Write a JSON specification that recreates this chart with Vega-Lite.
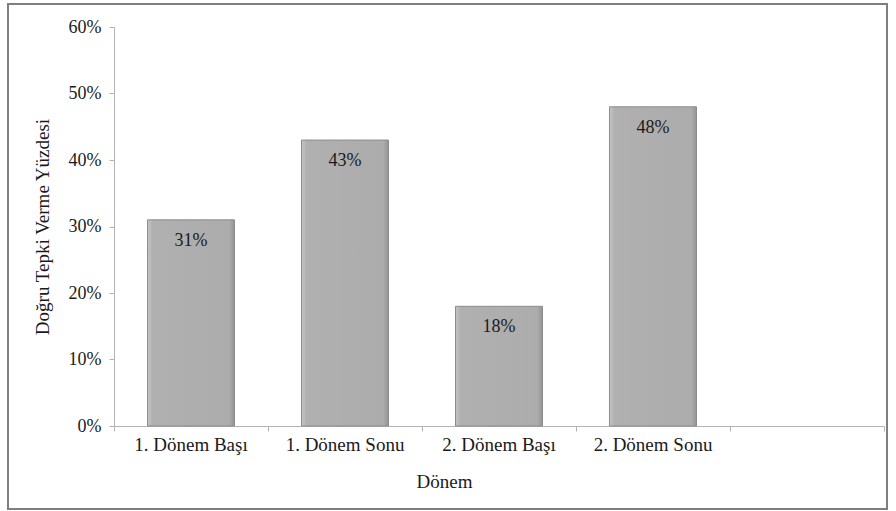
{
  "$schema": "https://vega.github.io/schema/vega-lite/v6.json",
  "width": 879,
  "height": 505,
  "autosize": {"type": "none"},
  "padding": {"left": 8, "top": 4, "right": 9, "bottom": 2},
  "background": "white",
  "config": {
    "view": {"stroke": "#7f7f7f", "strokeWidth": 2},
    "font": "Liberation Serif"
  },
  "data": {
    "values": [
      {"donem": "1. Dönem Başı", "yuzde": 0.31},
      {"donem": "1. Dönem Sonu", "yuzde": 0.43},
      {"donem": "2. Dönem Başı", "yuzde": 0.18},
      {"donem": "2. Dönem Sonu", "yuzde": 0.48}
    ]
  },
  "encoding": {
    "y": {
      "field": "yuzde",
      "type": "quantitative",
      "scale": {"domain": [0, 0.6], "range": [422, 23], "nice": false},
      "axis": {
        "title": "Doğru Tepki Verme Yüzdesi",
        "orient": "left",
        "offset": -106,
        "values": [0, 0.1, 0.2, 0.3, 0.4, 0.5, 0.6],
        "format": ".0%",
        "grid": false,
        "tickSize": 5,
        "tickColor": "#b3b3b3",
        "domainColor": "#b3b3b3",
        "labelFont": "Liberation Serif",
        "labelFontSize": 18,
        "labelColor": "#1a1a1a",
        "labelPadding": 8,
        "titleFont": "Liberation Serif",
        "titleFontSize": 19,
        "titleFontWeight": "normal",
        "titleColor": "#1a1a1a",
        "titlePadding": 16
      }
    }
  },
  "layer": [
    {
      "mark": {
        "type": "bar",
        "color": {
          "gradient": "linear",
          "x1": 0, "y1": 0, "x2": 1, "y2": 0,
          "stops": [
            {"offset": 0, "color": "#c4c4c4"},
            {"offset": 0.06, "color": "#b0b0b0"},
            {"offset": 0.94, "color": "#acacac"},
            {"offset": 1, "color": "#939393"}
          ]
        },
        "stroke": "#8c8c8c",
        "strokeWidth": 1
      },
      "encoding": {
        "x": {
          "field": "donem",
          "type": "nominal",
          "sort": null,
          "scale": {
            "domain": ["1. Dönem Başı", "1. Dönem Sonu", "2. Dönem Başı", "2. Dönem Sonu", "_"],
            "range": [106, 876],
            "paddingInner": 0.435,
            "paddingOuter": 0.2175
          },
          "axis": {
            "title": "Dönem",
            "orient": "bottom",
            "offset": -83,
            "labelAngle": 0,
            "labelExpr": "datum.value == '_' ? '' : datum.label",
            "ticks": false,
            "domainColor": "#b3b3b3",
            "labelFont": "Liberation Serif",
            "labelFontSize": 19,
            "labelColor": "#1a1a1a",
            "labelPadding": 9,
            "titleFont": "Liberation Serif",
            "titleFontSize": 19,
            "titleFontWeight": "normal",
            "titleColor": "#1a1a1a",
            "titleX": 436,
            "titleY": 55,
            "titleBaseline": "middle"
          }
        }
      }
    },
    {
      "mark": {"type": "text", "dy": 21, "baseline": "middle", "font": "Liberation Serif", "fontSize": 18, "color": "#1a1a1a"},
      "encoding": {
        "x": {
          "field": "donem",
          "type": "nominal",
          "sort": null,
          "scale": {
            "domain": ["1. Dönem Başı", "1. Dönem Sonu", "2. Dönem Başı", "2. Dönem Sonu", "_", "__"],
            "range": [106, 1030],
            "paddingInner": 0.435,
            "paddingOuter": 0.2175
          },
          "axis": {
            "orient": "bottom",
            "offset": -83,
            "title": null,
            "labels": false,
            "domain": false,
            "ticks": true,
            "tickOffset": -77,
            "tickSize": 5,
            "tickColor": "#b3b3b3"
          }
        },
        "text": {"field": "yuzde", "type": "quantitative", "format": ".0%"}
      }
    }
  ],
  "resolve": {"scale": {"x": "independent"}, "axis": {"x": "independent"}}
}
